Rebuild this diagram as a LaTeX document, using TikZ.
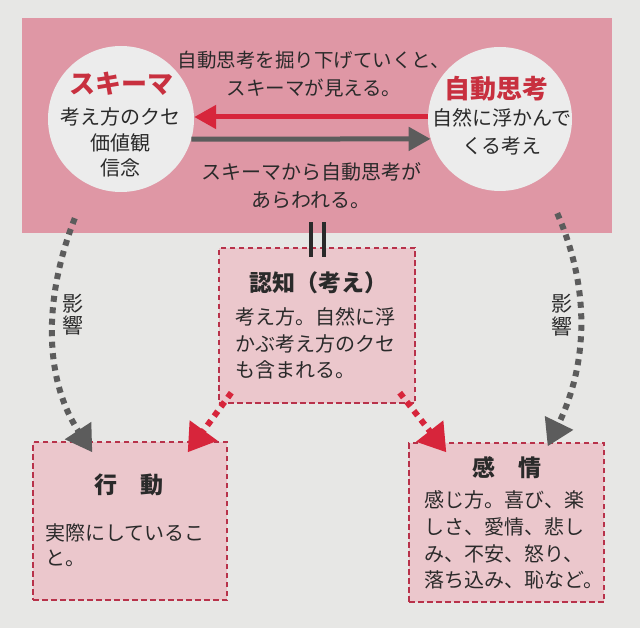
\documentclass[tikz,border=0pt]{standalone}
\usepackage{fontspec}
\setmainfont{Noto Sans CJK JP}
\usepackage{xcolor}
\usepackage{tikz}
\usetikzlibrary{arrows.meta}

\definecolor{paper}{HTML}{E7E7E5}
\definecolor{topfill}{HTML}{DF97A5}
\definecolor{boxfill}{HTML}{EBC7CC}
\definecolor{circfill}{HTML}{ECECEC}
\definecolor{redline}{HTML}{D7253B}
\definecolor{greyline}{HTML}{5C5C5C}
\definecolor{boxline}{HTML}{B8324A}
\definecolor{titlered}{HTML}{C8303F}
\definecolor{ink}{HTML}{2A2A2A}

\newcommand{\fs}[2]{\fontsize{#1}{#2}\selectfont}

\begin{document}
\begin{tikzpicture}[x=1pt,y=-1pt,
  circ/.style={circle,fill=circfill,minimum size=146pt,inner sep=0pt},
  dbox/.style={rectangle,draw=boxline,fill=boxfill,line width=1.4pt,dash pattern=on 5.5pt off 3.5pt,inner sep=0pt},
  txt/.style={text=ink,inner sep=0pt,font=\fs{20}{26.5}},
  redtitle/.style={text=titlered,inner sep=0pt,font=\fs{26}{30}\bfseries},
  head/.style={text=ink,inner sep=0pt,font=\fs{23}{26}\bfseries},
  vlab/.style={text=ink,inner sep=0pt,align=center,font=\fs{21}{22.5}},
  redarr/.style={draw=redline,line width=5pt,-{Triangle[length=22pt,width=23pt]}},
  greyarr/.style={draw=greyline,line width=5pt,-{Triangle[length=22pt,width=23pt]}},
  reddot/.style={draw=redline,line width=6pt,dash pattern=on 6pt off 5.5pt,-{Triangle[length=27pt,width=33pt]}},
  greydot/.style={draw=greyline,line width=6pt,dash pattern=on 6pt off 5.5pt,-{Triangle[length=26pt,width=30pt]}},
  eqbar/.style={draw=ink,line width=4pt}]
%\draw[help lines,step=20] (0,0) grid (640,628);
\fill[paper] (0,0) rectangle (640,628);
\path (317,125.5) node(top) [rectangle,fill=topfill,minimum width=590pt,minimum height=215pt] {}
(121,119) node(sch) [circ] {}
(500,119) node(auto) [circ,minimum size=144pt] {};
\path (121,84) node(schT) [redtitle] {スキーマ}
(120,142.5) node(schB) [txt,align=center,font=\fs{20}{25.5}] {考え方のクセ\\価値観\\信念}
(496,89) node(autoT) [redtitle] {自動思考}
(502,132) node(autoB) [txt,align=center,font=\fs{20}{28.5}] {自然に浮かんで\\くる考え}
(314,74) node(digT) [txt,align=center,font=\fs{19.5}{28}] {自動思考を掘り下げていくと、\\スキーマが見える。}
(311,186) node(emgT) [txt,align=center,font=\fs{20}{28}] {スキーマから自動思考が\\あらわれる。};
\draw[redarr] ([yshift=2pt]auto.west) -- ([yshift=2pt]sch.east);
\draw[greyarr] (sch.-16) -- (auto.196);
% lower boxes
\path (317,325.5) node(cog) [dbox,minimum width=196pt,minimum height=155pt] {}
(130,521) node(act) [dbox,minimum width=194pt,minimum height=158pt] {}
(506.5,522.5) node(emo) [dbox,minimum width=195pt,minimum height=159pt] {};
\draw[eqbar] ([shift={(-6.5,-11)}]top.south) -- ([shift={(-6.5,10)}]cog.north);
\draw[eqbar] ([shift={(6.5,-11)}]top.south) -- ([shift={(6.5,10)}]cog.north);
\path (318,283) node(cogT) [head] {認知（考え）}
(316,343.5) node(cogB) [txt,text width=162pt,align=left] {考え方。自然に浮\\かぶ考え方のクセ\\も含まれる。}
(128.5,485) node(actT) [head] {行　動}
(126,545.5) node(actB) [txt,text width=162pt,align=left,font=\fs{20}{25}] {実際にしているこ\\と。}
(507,468) node(emoT) [head] {感　情}
(515,540) node(emoB) [txt,text width=182pt,align=left,font=\fs{20}{26.7}] {感じ方。喜び、楽\\しさ、愛情、悲し\\み、不安、怒り、\\落ち込み、恥など。}
(72.5,314.5) node(infL) [vlab] {影\\響}
(562,315) node(infR) [vlab] {影\\響};
\draw[reddot] ([shift={(13,-11)}]cog.south west) -- ([shift={(-40,11)}]act.north east);
\draw[reddot] ([shift={(-16,-11)}]cog.south east) -- ([shift={(38,10)}]emo.north west);
\draw[greydot] ([shift={(53,-15)}]top.south west) .. controls +(-32,82) and +(-48,-73) .. ([shift={(60,11)}]act.north west);
\draw[greydot] ([shift={(-55,-20)}]top.south east) .. controls +(38,87) and +(35,-72) .. ([shift={(-57,4)}]emo.north east);
\end{tikzpicture}
\end{document}
